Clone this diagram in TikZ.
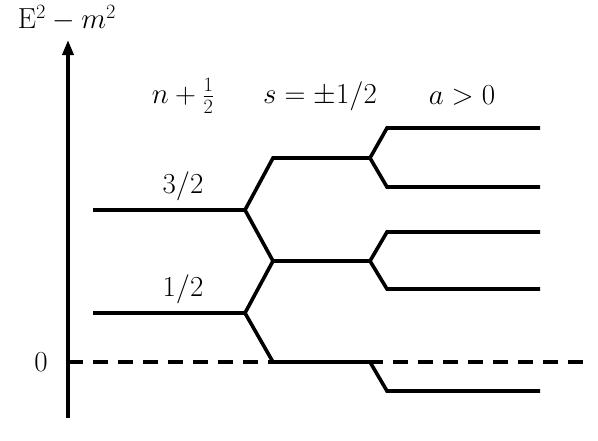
\RequirePackage{fix-cm}
\documentclass[tikz,border=0pt]{standalone}
\usetikzlibrary{arrows.meta}
\begin{document}
\begin{tikzpicture}[x=1pt,y=-1pt,
  lvl/.style={line width=3.6pt,line join=miter,line cap=butt},
  lbl/.style={font=\fontsize{29}{34}\selectfont,inner sep=0pt},
  axis/.style={line width=3.6pt,-{Triangle[length=15pt,width=11pt]}}]
\useasboundingbox (0,0) rectangle (598,440);
% coordinates
\coordinate (ab) at (68,418);
\coordinate (at) at (68,40);
\coordinate (z0) at (68,362);
\coordinate (zE) at (586,362);
\coordinate (a1) at (93,210);
\coordinate (b1) at (245,210);
\coordinate (a2) at (93,313);
\coordinate (b2) at (245,313);
\coordinate (c1) at (273,158);
\coordinate (c2) at (273,261);
\coordinate (c3) at (273,362);
\coordinate (d1) at (370,158);
\coordinate (d2) at (370,261);
\coordinate (d3) at (370,362);
\coordinate (e1) at (387,128);
\coordinate (e2) at (387,187);
\coordinate (e3) at (387,232);
\coordinate (e4) at (387,289);
\coordinate (e5) at (387,391);
\coordinate (f1) at (540,128);
\coordinate (f2) at (540,187);
\coordinate (f3) at (540,232);
\coordinate (f4) at (540,289);
\coordinate (f5) at (540,391);
% axis
\draw[axis] (ab) -- (at);
\draw[line width=3.6pt,dash pattern=on 15pt off 10pt] (z0) -- (zE);
% labels
\node[lbl] (ylab) at (67,18) {$\mathrm{E}^2 - m^2$};
\node[lbl] (zero) at (41,362) {0};
\node[lbl] (n) at (183,96) {$n+\frac{1}{2}$};
\node[lbl] (s) at (320,96) {$s=\pm1/2$};
\node[lbl] (a) at (462,96) {$a>0$};
\node[lbl] (l32) at (183,186) {$3/2$};
\node[lbl] (l12) at (183,289) {$1/2$};
% levels
\draw[lvl] (a1) -- (b1) -- (c1) -- (d1) -- (e1) -- (f1);
\draw[lvl] (d1) -- (e2) -- (f2);
\draw[lvl] (b1) -- (c2) -- (d2) -- (e3) -- (f3);
\draw[lvl] (d2) -- (e4) -- (f4);
\draw[lvl] (a2) -- (b2) -- (c2);
\draw[lvl] (b2) -- (c3) -- (d3) -- (e5) -- (f5);
\end{tikzpicture}
\end{document}
